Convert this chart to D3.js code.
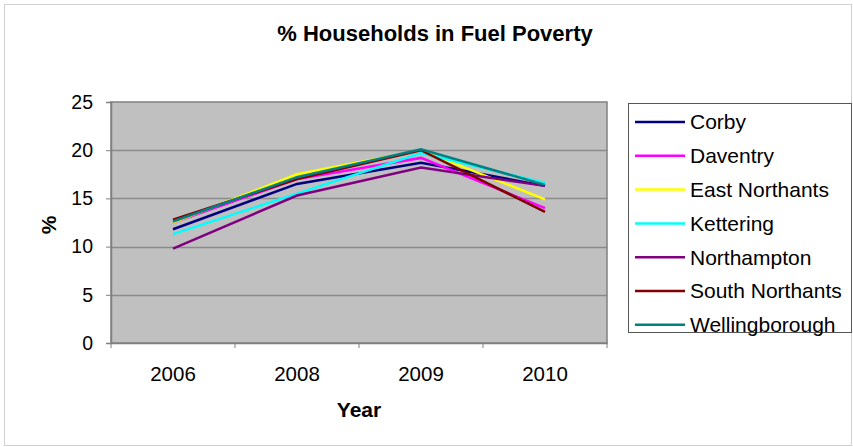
<!DOCTYPE html>
<html>
<head>
<meta charset="utf-8">
<script src="https://cdn.jsdelivr.net/npm/d3@7"></script>
<style>
  body { margin: 0; background: #fff; }
  text { font-family: 'Liberation Sans', Arial, sans-serif; }
</style>
</head>
<body>
<div id="chart"></div>
<script>
// data
var years = ['2006', '2008', '2009', '2010'];
var areas = ['Corby', 'Daventry', 'East Northants', 'Kettering', 'Northampton', 'South Northants', 'Wellingborough'];
var corby = [11.8, 16.5, 18.7, 16.3];
var daventry = [12.5, 17.0, 19.2, 14.0];
var eastNorthants = [12.5, 17.5, 20.0, 14.9];
var kettering = [11.3, 15.5, 19.7, 16.6];
var northampton = [9.8, 15.3, 18.2, 16.3];
var southNorthants = [12.8, 17.0, 20.0, 13.6];
var wellingborough = [12.6, 17.2, 20.1, 16.4];
var yTicks = [0, 5, 10, 15, 20, 25];
var colors = ['#000080', '#FF00FF', '#FFFF00', '#00FFFF', '#800080', '#800000', '#008080'];

var seriesValues = [corby, daventry, eastNorthants, kettering, northampton, southNorthants, wellingborough];
var series = areas.map(function(name, i) {
    return { name: name, color: colors[i], values: seriesValues[i] };
});

var width = 853, height = 447;
var plot = { left: 111, top: 102, right: 607, bottom: 343 };

var svg = d3.select('#chart').append('svg')
    .attr('width', width)
    .attr('height', height);

// outer border
svg.append('rect')
    .attr('x', 4.5).attr('y', 4.5)
    .attr('width', width - 6).attr('height', height - 6)
    .attr('fill', '#fff')
    .attr('stroke', '#d0d0d0');

// title
svg.append('text')
    .attr('x', 435).attr('y', 41)
    .attr('text-anchor', 'middle')
    .style('font-size', '22px')
    .style('font-weight', 'bold')
    .text('% Households in Fuel Poverty');

var xScale = d3.scaleBand()
    .domain(years)
    .range([plot.left, plot.right]);

var yScale = d3.scaleLinear()
    .domain([0, 25])
    .range([plot.bottom, plot.top]);

// plot background
svg.append('rect')
    .attr('x', plot.left).attr('y', plot.top)
    .attr('width', plot.right - plot.left)
    .attr('height', plot.bottom - plot.top)
    .attr('fill', '#c0c0c0');

// gridlines
svg.append('g')
    .selectAll('line')
    .data(yTicks.slice(1, -1))
    .join('line')
    .attr('x1', plot.left).attr('x2', plot.right)
    .attr('y1', function(d) { return Math.round(yScale(d)) + 0.5; })
    .attr('y2', function(d) { return Math.round(yScale(d)) + 0.5; })
    .attr('stroke', '#8a8a8a')
    .attr('stroke-width', 1.5);

// plot border
svg.append('rect')
    .attr('x', plot.left).attr('y', plot.top)
    .attr('width', plot.right - plot.left)
    .attr('height', plot.bottom - plot.top)
    .attr('fill', 'none')
    .attr('stroke', '#808080')
    .attr('stroke-width', 1.5);

// y axis
var yAxis = d3.axisLeft(yScale)
    .tickValues(yTicks)
    .tickSize(5)
    .tickPadding(13);
var gy = svg.append('g')
    .attr('transform', 'translate(' + plot.left + ',0)')
    .call(yAxis);
gy.select('.domain').attr('stroke', '#808080').attr('stroke-width', 1.5);
gy.selectAll('.tick line').attr('stroke', '#808080');
gy.selectAll('.tick text')
    .style('font-size', '19.5px')
    .style('font-family', "'Liberation Sans', Arial, sans-serif")
    .attr('fill', '#000');

// x axis
var xAxis = d3.axisBottom(xScale)
    .tickSize(0)
    .tickPadding(23);
var gx = svg.append('g')
    .attr('transform', 'translate(0,' + plot.bottom + ')')
    .call(xAxis);
gx.select('.domain').attr('stroke', '#808080').attr('stroke-width', 1.5);
gx.selectAll('.tick text')
    .style('font-size', '20.5px')
    .style('font-family', "'Liberation Sans', Arial, sans-serif")
    .attr('fill', '#000');

// x tick marks between categories
svg.append('g')
    .selectAll('line')
    .data(years.concat(['end']))
    .join('line')
    .attr('x1', function(d, i) { return i < years.length ? xScale(d) : plot.right; })
    .attr('x2', function(d, i) { return i < years.length ? xScale(d) : plot.right; })
    .attr('y1', plot.bottom)
    .attr('y2', plot.bottom + 5)
    .attr('stroke', '#808080');

// axis titles
svg.append('text')
    .attr('x', 359).attr('y', 417)
    .attr('text-anchor', 'middle')
    .style('font-size', '21px')
    .style('font-weight', 'bold')
    .text('Year');

svg.append('text')
    .attr('transform', 'translate(56,225) rotate(-90)')
    .attr('text-anchor', 'middle')
    .style('font-size', '21px')
    .style('font-weight', 'bold')
    .text('%');

// lines
var line = d3.line()
    .x(function(d, i) { return xScale(years[i]) + xScale.bandwidth() / 2; })
    .y(function(d) { return yScale(d); });

svg.append('g')
    .selectAll('path')
    .data(series)
    .join('path')
    .attr('d', function(d) { return line(d.values); })
    .attr('fill', 'none')
    .attr('stroke', function(d) { return d.color; })
    .attr('stroke-width', 2.5);

// legend
var legend = svg.append('g').attr('transform', 'translate(628,103)');
legend.append('rect')
    .attr('x', 0.5).attr('y', 0.5)
    .attr('width', 223).attr('height', 229)
    .attr('fill', '#fff')
    .attr('stroke', '#555')
    .attr('stroke-width', 1);

var items = legend.selectAll('.item')
    .data(series)
    .join('g')
    .attr('class', 'item')
    .attr('transform', function(d, i) { return 'translate(0,' + (19 + i * 33.8) + ')'; });

items.append('line')
    .attr('x1', 7).attr('x2', 57)
    .attr('stroke', function(d) { return d.color; })
    .attr('stroke-width', 2.5);

items.append('text')
    .attr('x', 62)
    .attr('dy', '0.35em')
    .style('font-size', '21px')
    .text(function(d) { return d.name; });
</script>
</body>
</html>
